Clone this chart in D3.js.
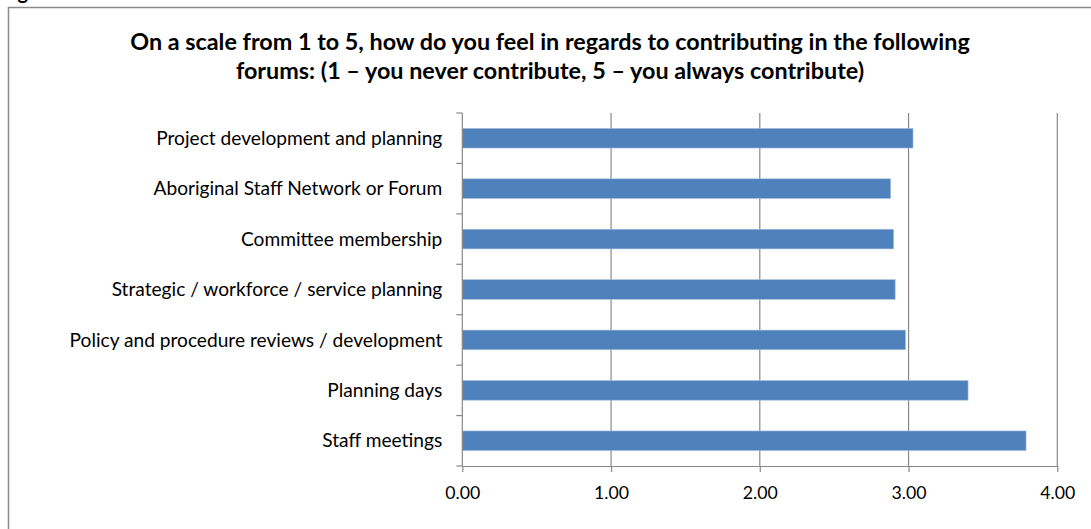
<!DOCTYPE html>
<html>
<head>
<meta charset="utf-8">
<script src="https://cdn.jsdelivr.net/npm/d3@7"></script>
<style>
  html, body { margin: 0; padding: 0; background: #fff; }
  svg { display: block; }
</style>
</head>
<body>
<svg id="chart" width="1091" height="529"></svg>
<script>
// Forum categories, listed top to bottom
const categories = [
  "Project development and planning",
  "Aboriginal Staff Network or Forum",
  "Committee membership",
  "Strategic / workforce / service planning",
  "Policy and procedure reviews / development",
  "Planning days",
  "Staff meetings"
];
// Average contribution rating (1–5 scale)
const averages = [3.03, 2.88, 2.90, 2.91, 2.98, 3.40, 3.79];
const xTicks = [0, 1, 2, 3, 4];
const titleLines = [
  "On a scale from 1 to 5, how do you feel in regards to contributing in the following",
  "forums: (1 \u2013 you never contribute, 5 \u2013 you always contribute)"
];

const svg = d3.select("#chart");
const W = 1091, H = 529;
const plot = { left: 462.3, right: 1057.3, top: 113, bottom: 466 };
const gridColor = "#888888";
const font = "Lato, 'Open Sans', sans-serif";

// Scale a text selection's font size so its widest member spans `target` px
function fitWidth(sel, target) {
  let widest = 0;
  sel.each(function () { widest = Math.max(widest, this.getComputedTextLength()); });
  const size = parseFloat(sel.attr("font-size"));
  sel.attr("font-size", size * target / widest);
}

// Outer chart frame
svg.append("rect")
  .attr("x", 8.5).attr("y", 7.5)
  .attr("width", W).attr("height", H)
  .attr("fill", "none").attr("stroke", "#8c8c8c").attr("stroke-width", 1.5);

// Caption above the frame (only its descender reaches the page)
svg.append("text")
  .attr("x", 1).attr("y", -1)
  .attr("font-family", font).attr("font-weight", "bold")
  .attr("font-size", 20).attr("fill", "#000")
  .text("Figure 12");

// Title
const title = svg.append("g").selectAll("text").data(titleLines).join("text")
  .attr("x", 550).attr("y", (d, i) => 50 + i * 29)
  .attr("text-anchor", "middle")
  .attr("font-family", font).attr("font-weight", "bold")
  .attr("font-size", 20).attr("fill", "#000")
  .text(d => d);
fitWidth(title, 840);

const x = d3.scaleLinear().domain([0, 4]).range([plot.left, plot.right]);
const y = d3.scaleBand().domain(categories).range([plot.top, plot.bottom])
  .paddingInner(0.61).paddingOuter(0.305);

// Vertical gridlines
svg.append("g").selectAll("line").data(xTicks.filter(t => t > 0)).join("line")
  .attr("x1", d => x(d)).attr("x2", d => x(d))
  .attr("y1", plot.top).attr("y2", plot.bottom)
  .attr("stroke", gridColor).attr("stroke-width", 1.2);

// Bars
svg.append("g").selectAll("rect").data(categories).join("rect")
  .attr("x", x(0))
  .attr("y", d => y(d))
  .attr("width", (d, i) => x(averages[i]) - x(0))
  .attr("height", y.bandwidth())
  .attr("fill", "#4f81bd")
  .attr("stroke", "#a9c0e0").attr("stroke-width", 0.6);

// X axis
const xAxis = svg.append("g")
  .attr("transform", `translate(0,${plot.bottom})`)
  .call(d3.axisBottom(x).tickValues(xTicks).tickFormat(d3.format(".2f")).tickSizeInner(6).tickSizeOuter(0));
xAxis.select(".domain").attr("stroke", gridColor).attr("stroke-width", 1.2);
xAxis.selectAll(".tick line").attr("stroke", gridColor).attr("stroke-width", 1.2);
const xLabels = xAxis.selectAll(".tick text")
  .attr("dy", null).attr("y", 33)
  .attr("font-family", font).attr("font-size", 16).attr("fill", "#000");
fitWidth(xLabels, 35);

// Y axis with ticks at category boundaries
const yAxis = svg.append("g").attr("transform", `translate(${plot.left},0)`);
yAxis.append("line")
  .attr("x1", 0).attr("x2", 0).attr("y1", plot.top).attr("y2", plot.bottom)
  .attr("stroke", gridColor).attr("stroke-width", 1.2);
const step = y.step();
yAxis.selectAll("line.tick").data(d3.range(categories.length + 1)).join("line")
  .attr("class", "tick")
  .attr("x1", -6).attr("x2", 0)
  .attr("y1", i => plot.top + i * step).attr("y2", i => plot.top + i * step)
  .attr("stroke", gridColor).attr("stroke-width", 1.2);
const yLabels = yAxis.selectAll("text").data(categories).join("text")
  .attr("x", -20)
  .attr("y", d => y(d) + y.bandwidth() / 2)
  .attr("dy", "0.35em")
  .attr("text-anchor", "end")
  .attr("font-family", font).attr("font-size", 16).attr("fill", "#000")
  .text(d => d);
fitWidth(yLabels, 373);
</script>
</body>
</html>
